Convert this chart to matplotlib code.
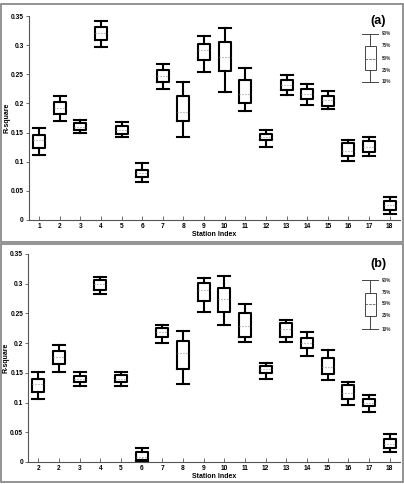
import numpy as np
import matplotlib
matplotlib.use("Agg")
import matplotlib.pyplot as plt
from matplotlib.patches import Rectangle

# station positions and tick labels
stations = list(range(1, 19))
xlabels_a = [str(s) for s in stations]
xlabels_b = ['2'] + [str(s) for s in stations[1:]]

# panel (a) percentiles: 10, 25, 50, 75, 90
a_p10 = [0.112, 0.170, 0.149, 0.297, 0.142, 0.065, 0.225, 0.143, 0.254, 0.220, 0.187, 0.125, 0.215, 0.197, 0.191, 0.102, 0.110, 0.011]
a_p25 = [0.124, 0.182, 0.154, 0.308, 0.147, 0.073, 0.237, 0.169, 0.275, 0.256, 0.200, 0.137, 0.223, 0.208, 0.196, 0.109, 0.117, 0.017]
a_p50 = [0.137, 0.192, 0.160, 0.320, 0.154, 0.080, 0.247, 0.186, 0.291, 0.280, 0.217, 0.143, 0.232, 0.217, 0.206, 0.119, 0.126, 0.025]
a_p75 = [0.146, 0.203, 0.166, 0.331, 0.161, 0.086, 0.258, 0.213, 0.302, 0.305, 0.240, 0.148, 0.240, 0.225, 0.213, 0.132, 0.135, 0.032]
a_p90 = [0.157, 0.213, 0.172, 0.342, 0.168, 0.097, 0.268, 0.236, 0.316, 0.329, 0.260, 0.155, 0.249, 0.234, 0.221, 0.138, 0.142, 0.040]

# panel (b)
b_p10 = [0.106, 0.152, 0.128, 0.282, 0.128, 0.001, 0.201, 0.131, 0.253, 0.230, 0.202, 0.140, 0.202, 0.178, 0.138, 0.096, 0.084, 0.016]
b_p25 = [0.118, 0.165, 0.135, 0.289, 0.134, 0.003, 0.210, 0.156, 0.271, 0.252, 0.211, 0.149, 0.211, 0.191, 0.148, 0.106, 0.094, 0.024]
b_p50 = [0.132, 0.176, 0.140, 0.299, 0.140, 0.009, 0.219, 0.184, 0.290, 0.274, 0.229, 0.157, 0.224, 0.201, 0.160, 0.116, 0.100, 0.031]
b_p75 = [0.140, 0.187, 0.144, 0.307, 0.146, 0.016, 0.225, 0.204, 0.301, 0.292, 0.250, 0.162, 0.234, 0.208, 0.175, 0.129, 0.106, 0.038]
b_p90 = [0.151, 0.197, 0.152, 0.312, 0.152, 0.024, 0.231, 0.220, 0.310, 0.313, 0.266, 0.167, 0.239, 0.219, 0.189, 0.135, 0.113, 0.047]

yticks = [0, 0.05, 0.1, 0.15, 0.2, 0.25, 0.3, 0.35]
ytick_labels = ['0', '0.05', '0.1', '0.15', '0.2', '0.25', '0.3', '0.35']
legend_labels = ['90%', '75%', '50%', '25%', '10%']

plt.rcParams['font.family'] = ['Liberation Sans', 'DejaVu Sans']
plt.rcParams['font.weight'] = 'bold'

W, H = 404, 484
fig = plt.figure(figsize=(W / 100, H / 100), dpi=100)

# gray frames round each panel
for top, bot in [(4, 241.7), (244.3, 481.7)]:
    fig.patches.append(Rectangle((0.5 / W, 1 - bot / H), 402.5 / W, (bot - top) / H,
                                 transform=fig.transFigure, fill=False,
                                 edgecolor='#8a8a8a', linewidth=1.3))


def make_stats(p10, p25, p50, p75, p90):
    return [dict(whislo=a, q1=b, med=c, q3=d, whishi=e, fliers=[])
            for a, b, c, d, e in zip(p10, p25, p50, p75, p90)]


def draw_panel(ax, stats, xlabels, tag, leg):
    ax.bxp(stats, positions=stations, widths=0.58, capwidths=0.58,
           boxprops=dict(color='black', linewidth=1.5),
           whiskerprops=dict(color='black', linewidth=1.5),
           capprops=dict(color='black', linewidth=1.5),
           medianprops=dict(color='#999999', linewidth=0.8, linestyle=':'))
    ax.set_xlim(0.5, 18.5)
    ax.set_ylim(0, 0.35)
    ax.set_xticks(stations)
    ax.set_xticklabels(xlabels, fontsize=4.8, fontweight='bold')
    ax.set_yticks(yticks)
    ax.set_yticklabels(ytick_labels, fontsize=4.8, fontweight='bold')
    ax.spines['top'].set_visible(False)
    ax.spines['right'].set_visible(False)
    for sp in ['left', 'bottom']:
        ax.spines[sp].set_color('#555555')
        ax.spines[sp].set_linewidth(0.8)
    ax.tick_params(axis='x', direction='in', length=3, width=0.6, color='#555555', pad=2)
    ax.tick_params(axis='y', direction='out', length=2, width=0.6, color='#555555', pad=1.5)
    ax.set_xlabel('Station Index', fontsize=5, fontweight='bold', labelpad=1)
    ax.set_ylabel('R-square', fontsize=5, fontweight='bold')
    ax.yaxis.set_label_coords(-0.05, 0.5)
    ax.text(0.941, leg['tag_y'], tag, transform=ax.transAxes, fontsize=9,
            fontweight='bold', ha='center', va='center')

    # legend schematic in axes fraction
    t = ax.transAxes
    cx, bw, cw = 0.920, 0.0143, 0.021
    ys = leg['ys']
    lw = 0.7
    ax.plot([cx, cx], [ys[0], ys[1]], color='#444444', lw=lw, transform=t)
    ax.plot([cx, cx], [ys[3], ys[4]], color='#444444', lw=lw, transform=t)
    for y in (ys[0], ys[4]):
        ax.plot([cx - cw, cx + cw], [y, y], color='#444444', lw=lw, transform=t)
    ax.add_patch(Rectangle((cx - bw, ys[3]), 2 * bw, ys[1] - ys[3], transform=t,
                           fill=False, edgecolor='#444444', linewidth=lw))
    ax.plot([cx - bw, cx + bw], [ys[2], ys[2]], color='#444444', lw=0.5,
            linestyle='--', transform=t)
    for y, lab in zip(ys, legend_labels):
        ax.text(0.951, y, lab, transform=t, fontsize=3.3, fontweight='bold',
                ha='left', va='center', color='#333333')


ax_a = fig.add_axes([28.7 / W, 1 - 220 / H, (400 - 28.7) / W, 204 / H])
draw_panel(ax_a, make_stats(a_p10, a_p25, a_p50, a_p75, a_p90), xlabels_a, '(a)',
           dict(tag_y=0.975, ys=[0.912, 0.853, 0.791, 0.735, 0.678]))

ax_b = fig.add_axes([28 / W, 1 - 462 / H, (400 - 28) / W, 208 / H])
draw_panel(ax_b, make_stats(b_p10, b_p25, b_p50, b_p75, b_p90), xlabels_b, '(b)',
           dict(tag_y=0.952, ys=[0.875, 0.814, 0.760, 0.702, 0.639]))

fig.savefig('out.png', dpi=100)
